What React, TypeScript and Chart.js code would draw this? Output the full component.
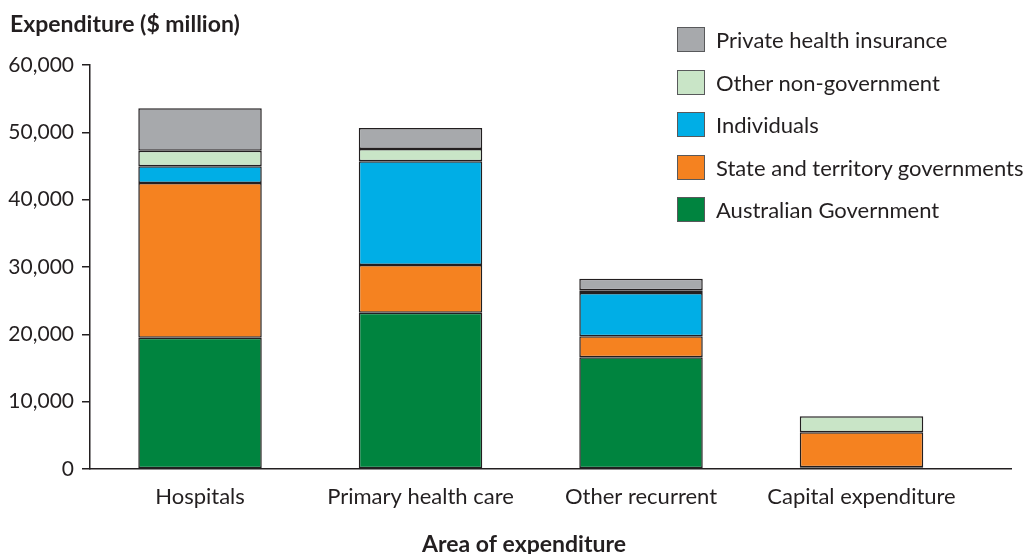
import { useEffect, useRef } from 'react';
import { Chart, registerables } from 'chart.js';

Chart.register(...registerables);

const categories = ['Hospitals', 'Primary health care', 'Other recurrent', 'Capital expenditure'];
const australianGovernment = [19500, 23200, 16600, 250];
const stateTerritory = [22980, 7100, 3100, 5190];
const individuals: (number | null)[] = [2470, 15390, 6450, null];
const otherNonGovernment = [2330, 1840, 400, 2380];
const privateHealthInsurance: (number | null)[] = [6280, 3120, 1700, null];
const yTicks = [0, 10000, 20000, 30000, 40000, 50000, 60000];

const seriesNames = [
  'Australian Government',
  'State and territory governments',
  'Individuals',
  'Other non-government',
  'Private health insurance',
];
const seriesValues = [australianGovernment, stateTerritory, individuals, otherNonGovernment, privateHealthInsurance];
const seriesColors = ['#00843f', '#f58220', '#00aee6', '#c9e5c7', '#a7a9ac'];

const INK = '#231f20';
const FONT = 'Lato';

export default function App() {
  const ref = useRef<HTMLCanvasElement>(null);

  useEffect(() => {
    document.body.style.margin = '0';
    const titles = {
      id: 'titles',
      afterDraw(chart: any) {
        const ctx = chart.ctx;
        ctx.save();
        ctx.fillStyle = INK;
        ctx.font = `bold 23px ${FONT}`;
        ctx.textBaseline = 'alphabetic';
        ctx.textAlign = 'left';
        ctx.fillText('Expenditure ($ million)', 10, 32);
        ctx.textAlign = 'center';
        ctx.fillText('Area of expenditure', 524, 552);
        ctx.restore();
      },
    };
    const chart = new Chart(ref.current as HTMLCanvasElement, {
      type: 'bar',
      data: {
        datasets: seriesNames.map((name, k) => ({
          label: name,
          data: seriesValues[k].map((v, i) => ({ x: i, y: v })),
          backgroundColor: seriesColors[k],
          borderColor: INK,
          borderWidth: 1.5,
          borderSkipped: false,
          barPercentage: 0.56,
          categoryPercentage: 1,
        })),
      },
      options: {
        animation: false,
        responsive: false,
        maintainAspectRatio: false,
        layout: { padding: { top: 65, right: 22, left: 0, bottom: 0 } },
        plugins: { legend: { display: false }, tooltip: { enabled: false } },
        scales: {
          x: {
            type: 'linear',
            stacked: true,
            offset: false,
            min: -0.499,
            max: 3.678,
            grid: { display: false, offset: false },
            border: { display: true, color: INK, width: 1.5 },
            ticks: {
              autoSkip: false,
              maxRotation: 0,
              padding: 7,
              color: INK,
              font: { family: FONT, size: 22 },
              callback: (v: any) => categories[v] ?? '',
            },
            afterBuildTicks: (s: any) => {
              s.ticks = categories.map((_, i) => ({ value: i }));
            },
            afterFit: (s: any) => {
              s.height = 85;
            },
          },
          y: {
            stacked: true,
            min: 0,
            max: 60000,
            grid: { drawOnChartArea: false, drawTicks: true, tickLength: 8, color: INK, lineWidth: 1.5 },
            border: { display: true, color: INK, width: 1.5 },
            ticks: {
              padding: 8,
              color: INK,
              font: { family: FONT, size: 21 },
              callback: (v: any) => Number(v).toLocaleString('en-US'),
            },
            afterBuildTicks: (s: any) => {
              s.ticks = yTicks.map((v) => ({ value: v }));
            },
            afterFit: (s: any) => {
              s.width = 90;
            },
          },
        },
      },
      plugins: [titles],
    } as any);
    return () => chart.destroy();
  }, []);

  const legendOrder = [4, 3, 2, 1, 0];

  return (
    <div style={{ position: 'fixed', left: 0, top: 0, width: 1033, height: 554, background: '#fff' }}>
      <canvas ref={ref} width={1033} height={554} style={{ position: 'absolute', left: 0, top: 0 }} />
      {legendOrder.map((k, row) => (
        <div
          key={k}
          style={{
            position: 'absolute',
            left: 677,
            top: 27 + row * 42.5,
            height: 25,
            display: 'flex',
            alignItems: 'center',
            whiteSpace: 'nowrap',
          }}
        >
          <div
            style={{
              width: 28,
              height: 25,
              boxSizing: 'border-box',
              background: seriesColors[k],
              border: '1px solid #58595b',
            }}
          />
          <span style={{ marginLeft: 11, fontFamily: FONT, fontSize: 22, color: INK, lineHeight: '25px' }}>
            {seriesNames[k]}
          </span>
        </div>
      ))}
    </div>
  );
}
